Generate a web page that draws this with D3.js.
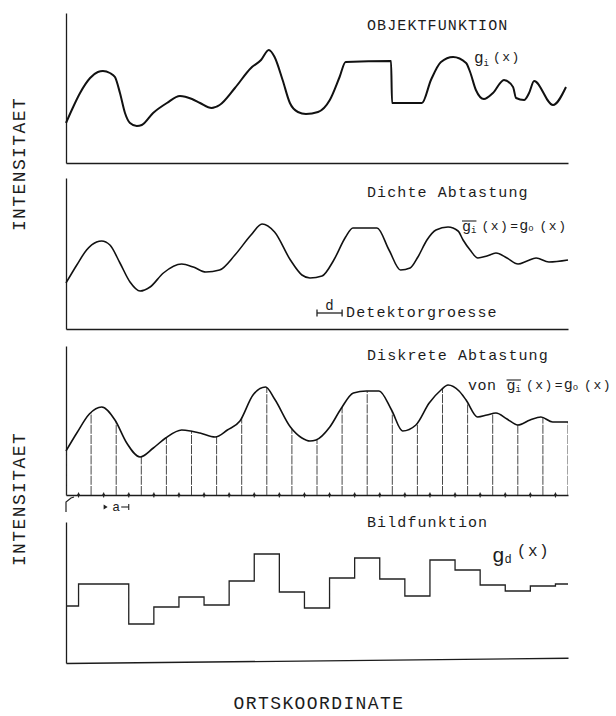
<!DOCTYPE html>
<html>
<head>
<meta charset="utf-8">
<script src="https://cdn.jsdelivr.net/npm/d3@7"></script>
<style>
  body { margin: 0; background: #fff; }
  svg { display: block; }
  text { font-family: "Liberation Mono", "DejaVu Sans Mono", monospace; fill: #1c1c1c; }
  .titel { font-size: 15px; letter-spacing: 1.1px; }
  .achse { font-size: 18px; letter-spacing: 1.4px; }
  .domain { stroke: #1c1c1c; stroke-width: 1.3px; }
</style>
</head>
<body>
<svg id="chart" width="616" height="716"></svg>
<script>
// Objektfunktion g_i(x): x in Abtastschritten, Intensitaet
const objektX = [0, 0.23, 0.56, 0.96, 1.27, 1.47, 1.75, 1.95, 2.15, 2.35, 2.55, 2.82, 3.02, 3.47, 4.02, 4.54, 5.02,
  5.34, 5.8, 6.12, 6.73, 7.37, 7.77, 8.08, 8.31, 8.63, 8.92, 9.24, 9.56, 10.04, 10.51, 10.9, 11.14, 12.95, 12.99,
  14.18, 14.54, 14.94, 15.42, 15.94, 16.1, 16.33, 16.65, 17.01, 17.45, 17.81, 17.93, 18.25, 18.45, 18.65, 19.4, 19.92];
const objektY = [40, 53, 70, 85, 91, 92, 90, 86, 70, 50, 40, 37, 38, 50, 60, 67, 64,
  60, 55, 58, 75, 95, 103, 113, 106, 83, 60, 51, 49, 51, 63, 86, 101, 102, 60,
  60, 83, 101, 106, 100, 91, 73, 64, 70, 83, 76, 65, 63, 70, 82, 58, 76];

// Dichte Abtastung g_o(x)
const dichteX = [0, 0.43, 0.82, 1.22, 1.42, 1.75, 2.15, 2.55, 2.95, 3.35, 3.88, 4.61, 5.07, 5.57, 6.12, 6.73, 7.37,
  7.81, 8.31, 8.94, 9.4, 9.72, 10.2, 10.67, 11.14, 11.43, 12.39, 12.87, 13.33, 13.71, 14.02, 14.38, 14.74, 15.22,
  15.62, 15.82, 16.1, 16.41, 16.77, 17.13, 17.57, 18.01, 18.37, 18.73, 19.24, 20];
const dichteY = [46, 64, 79, 87, 88, 84, 66, 47, 38, 42, 56, 65, 62, 57, 59, 74, 94,
  105, 97, 69, 54, 51, 53, 69, 92, 101, 101, 79, 59, 61, 72, 89, 99, 102,
  98, 89, 79, 71, 73, 76, 71, 65, 68, 71, 67, 69];

// Diskrete Abtastung (Kurve)
const diskretX = [0, 0.43, 0.93, 1.42, 1.95, 2.42, 2.95, 3.48, 3.97, 4.61, 4.97, 5.34, 5.94, 6.43, 6.93, 7.45, 7.95,
  8.31, 8.94, 9.4, 9.72, 9.96, 10.51, 10.95, 11.45, 11.97, 12.47, 12.97, 13.41, 13.94, 14.47, 14.94, 15.22, 15.66,
  15.94, 16.4, 16.77, 17.13, 17.57, 18, 18.49, 18.92, 19.39, 20];
const diskretY = [44, 62, 81, 88, 75, 52, 38, 47, 57, 65, 64, 62, 58, 65, 74, 100, 108,
  96, 68, 57, 54, 55, 68, 86, 102, 104, 104, 85, 64, 70, 92, 105, 110, 104,
  95, 78, 80, 82, 76, 70, 75, 78, 73, 73];

// Abtastorte, Zwischenmarken, Bildfunktion g_d(x)
const abtastOrte = [0, 1, 2, 3, 4, 5, 6, 7, 8, 9, 10, 11, 12, 13, 14, 15, 16, 17, 18, 19, 20];
const zwischenOrte = [0.5, 1.5, 2.5, 3.5, 4.5, 5.5, 6.5, 7.5, 8.5, 9.5, 10.5, 11.5, 12.5, 13.5, 14.5, 15.5, 16.5,
  17.5, 18.5, 19.5];
const bildWerte = [57, 79, 79, 39, 56, 66, 58, 82, 109, 71, 55, 85, 105, 84, 67, 103, 93, 78, 72, 77, 79];

const detektor = [10, 11];
const abstandA = [1.5, 2.5];

const titel = ['OBJEKTFUNKTION', 'Dichte Abtastung', 'Diskrete Abtastung', 'Bildfunktion'];

const svg = d3.select('#chart');
const x = d3.scaleLinear().domain([0, 20]).range([66, 568]);

// Panels: Grundlinie und Oberkante
const panels = [
  { base: 163, top: 13, ty: 30 },
  { base: 329, top: 178, ty: 197 },
  { base: 495, top: 346, ty: 360 },
  { base: 663, top: 522, ty: 527 },
];
panels.forEach((p) => {
  p.y = d3.scaleLinear().domain([0, p.base - p.top]).range([p.base, p.top]);
});

// Achsen
panels.forEach((p, i) => {
  const gx = svg.append('g')
    .attr('transform', `translate(0,${p.base})`)
    .call(d3.axisBottom(x).tickValues(i === 2 ? zwischenOrte : []).tickSizeOuter(0).tickSizeInner(0).tickFormat(''));
  if (i === 3) gx.select('.domain').attr('transform', 'rotate(-0.6,66,0)');
  svg.append('g')
    .attr('transform', 'translate(66,0)')
    .call(d3.axisLeft(p.y).tickValues([]).tickSizeOuter(0));
  svg.append('text').attr('class', 'titel').attr('x', 367).attr('y', p.ty).text(titel[i]);
});

const linie = (p, curve) => d3.line()
  .x(d => x(d[0]))
  .y(d => p.y(d[1]))
  .curve(curve);

// 1: Objektfunktion
svg.append('path')
  .datum(d3.zip(objektX, objektY))
  .attr('d', linie(panels[0], d3.curveMonotoneX))
  .attr('fill', 'none').attr('stroke', '#111').attr('stroke-width', 2).attr('stroke-linejoin', 'round');

// 2: Dichte Abtastung
svg.append('path')
  .datum(d3.zip(dichteX, dichteY))
  .attr('d', linie(panels[1], d3.curveMonotoneX))
  .attr('fill', 'none').attr('stroke', '#111').attr('stroke-width', 1.6);

// 3: Diskrete Abtastung, Abtastlinien bis zur Kurve (Clip unter der Kurve)
const p3 = panels[2];
const flaeche = d3.area()
  .x(d => x(d[0]))
  .y0(p3.y(0))
  .y1(d => p3.y(d[1]))
  .curve(d3.curveMonotoneX);
svg.append('clipPath').attr('id', 'unterKurve')
  .append('path').datum(d3.zip(diskretX, diskretY)).attr('d', flaeche);

svg.append('g').attr('clip-path', 'url(#unterKurve)')
  .selectAll('line').data(abtastOrte).join('line')
  .attr('x1', d => x(d)).attr('x2', d => x(d))
  .attr('y1', p3.y(0)).attr('y2', p3.top)
  .attr('stroke', '#333').attr('stroke-width', 0.9).attr('stroke-dasharray', '9 1.2');

svg.append('path')
  .datum(d3.zip(diskretX, diskretY))
  .attr('d', linie(p3, d3.curveMonotoneX))
  .attr('fill', 'none').attr('stroke', '#111').attr('stroke-width', 1.6);

// Zwischenmarken auf der Achse
const marken = svg.append('g');
marken.selectAll('line').data(zwischenOrte).join('line')
  .attr('x1', d => x(d)).attr('x2', d => x(d))
  .attr('y1', p3.base - 2.5).attr('y2', p3.base + 2.5)
  .attr('stroke', '#222').attr('stroke-width', 1);
marken.selectAll('circle').data(zwischenOrte).join('circle')
  .attr('cx', d => x(d)).attr('cy', p3.base).attr('r', 1.4).attr('fill', '#222');

// Ursprungsmarke und Abstand a
svg.append('path')
  .attr('d', `M${x(0)},${p3.base + 17}L${x(0)},${p3.base + 7}L${x(0) + 5},${p3.base + 3}L${x(0) + 8},${p3.base + 2}`)
  .attr('fill', 'none').attr('stroke', '#222').attr('stroke-width', 1.2);
const ay = p3.base + 12;
const aMitte = (x(abstandA[0]) + x(abstandA[1])) / 2;
svg.append('path')
  .attr('d', `M${x(abstandA[0])},${ay - 2.5}L${x(abstandA[0]) + 4},${ay}L${x(abstandA[0])},${ay + 2.5}Z`)
  .attr('fill', '#222');
svg.append('line')
  .attr('x1', aMitte + 5).attr('x2', x(abstandA[1])).attr('y1', ay).attr('y2', ay)
  .attr('stroke', '#222').attr('stroke-width', 1.1);
svg.append('line')
  .attr('x1', x(abstandA[1])).attr('x2', x(abstandA[1])).attr('y1', ay - 3).attr('y2', ay + 3)
  .attr('stroke', '#222').attr('stroke-width', 1.1);
svg.append('text').attr('x', aMitte).attr('y', ay + 4).attr('text-anchor', 'middle')
  .attr('font-size', 13).text('a');

// 4: Bildfunktion (Treppenfunktion)
svg.append('path')
  .datum(d3.zip(abtastOrte, bildWerte))
  .attr('d', linie(panels[3], d3.curveStep))
  .attr('fill', 'none').attr('stroke', '#222').attr('stroke-width', 1.3);

// Detektorgroesse d
const dy = 313;
svg.append('line')
  .attr('x1', x(detektor[0])).attr('x2', x(detektor[1])).attr('y1', dy).attr('y2', dy)
  .attr('stroke', '#222').attr('stroke-width', 1.3);
detektor.forEach((d) => {
  svg.append('line').attr('x1', x(d)).attr('x2', x(d)).attr('y1', dy - 3.5).attr('y2', dy + 3.5)
    .attr('stroke', '#222').attr('stroke-width', 1.3);
});
svg.append('text').attr('x', (x(detektor[0]) + x(detektor[1])) / 2).attr('y', dy - 3)
  .attr('text-anchor', 'middle').attr('font-size', 14).text('d');
svg.append('text').attr('class', 'titel').attr('x', x(detektor[1]) + 4).attr('y', 317).text('Detektorgroesse');

// Formeln mit Indizes
function formel(px, py, teile, ueberstrich) {
  const t = svg.append('text').attr('x', px).attr('y', py);
  teile.forEach((p) => {
    t.append('tspan').attr('font-size', p.s).attr('dy', p.dy || 0).attr('dx', p.dx || 0)
      .attr('letter-spacing', p.ls || 0).text(p.t);
  });
  if (ueberstrich) {
    const n = t.node();
    const a = n.getExtentOfChar(ueberstrich[0]);
    const b = n.getExtentOfChar(ueberstrich[1]);
    svg.append('line')
      .attr('x1', a.x).attr('x2', b.x + b.width)
      .attr('y1', a.y + 2).attr('y2', a.y + 2)
      .attr('stroke', '#222').attr('stroke-width', 1.1);
  }
  return t;
}

formel(474, 63, [
  { t: 'g', s: 16 }, { t: 'i', s: 9, dy: 3 }, { t: '(x)', s: 13, dy: -5, dx: 4, ls: 1.5 },
]);
formel(462, 231, [
  { t: 'g', s: 15 }, { t: 'i', s: 9, dy: 2 }, { t: '(x)', s: 13, dy: -3, dx: 5, ls: 1.5 },
  { t: '=', s: 13, dx: 1 }, { t: 'g', s: 15, dx: 1 }, { t: 'o', s: 9, dy: 1 }, { t: '(x)', s: 13, dy: -1, dx: 6, ls: 1.5 },
], [0, 1]);
formel(468, 390, [
  { t: 'von', s: 15, ls: 0.5 }, { t: 'g', s: 15, dx: 10 }, { t: 'i', s: 9, dy: 2 },
  { t: '(x)', s: 13, dy: -3, dx: 5, ls: 1.5 },
  { t: '=', s: 13, dx: 1 }, { t: 'g', s: 15, dx: 1 }, { t: 'o', s: 9, dy: 1 }, { t: '(x)', s: 13, dy: -1, dx: 6, ls: 1.5 },
], [3, 4]);
formel(492, 562, [
  { t: 'g', s: 21 }, { t: 'd', s: 12, dy: 1 }, { t: '(x)', s: 16, dy: -7, dx: 5, ls: 1.5 },
]);

// Achsentitel
svg.append('text').attr('class', 'achse').attr('text-anchor', 'middle')
  .attr('transform', 'translate(25,164) rotate(-90)').text('INTENSITAET');
svg.append('text').attr('class', 'achse').attr('text-anchor', 'middle')
  .attr('transform', 'translate(25,499) rotate(-90)').text('INTENSITAET');
svg.append('text').attr('class', 'achse').attr('text-anchor', 'middle')
  .attr('x', 319).attr('y', 709).text('ORTSKOORDINATE');
</script>
</body>
</html>
